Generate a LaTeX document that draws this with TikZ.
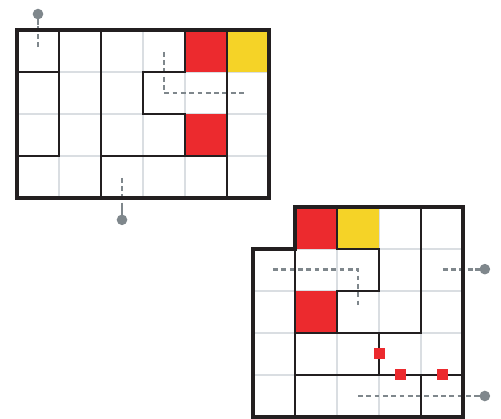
\documentclass[tikz,border=0pt]{standalone}
\usetikzlibrary{calc}
\definecolor{gridgray}{HTML}{DADEE2}
\definecolor{wallblack}{HTML}{231F20}
\definecolor{pinggray}{HTML}{7F878C}
\definecolor{cellred}{HTML}{EC2A2E}
\definecolor{cellyellow}{HTML}{F5D327}
\tikzset{
  gridline/.style={draw=gridgray, line width=1.5pt},
  wall/.style={draw=wallblack, line width=2.4pt, line cap=rect, line join=miter},
  border/.style={draw=wallblack, line width=4.6pt, line join=miter},
  redcell/.style={fill=cellred},
  yellowcell/.style={fill=cellyellow},
  pathdash/.style={draw=pinggray, line width=2.9pt, dash pattern=on 4.8pt off 3.5pt},
  pinstem/.style={draw=pinggray, line width=2.9pt},
  pinhead/.style={fill=pinggray},
  marker/.style={fill=cellred},
}
\begin{document}
\begin{tikzpicture}[x=1pt,y=-1pt]
\useasboundingbox (0,0) rectangle (501,419);
% ---------------- top grid ----------------
\begin{scope}[shift={(17,30)}, x=42pt, y=-42pt]
  \foreach \i in {1,...,5} \draw[gridline] (\i,0) -- (\i,4);
  \foreach \j in {1,...,3} \draw[gridline] (0,\j) -- (6,\j);
  \path[redcell] (4,0) rectangle (5,1);
  \path[yellowcell] (5,0) rectangle (6,1);
  \path[redcell] (4,2) rectangle (5,3);
  % dashed route
  \coordinate (tA) at (3.5,0.52);
  \coordinate (tB) at (3.5,1.5);
  \coordinate (tC) at (5.4,1.5);
  \draw[pathdash] (tA) -- (tB) -- (tC);
  % top pin
  \coordinate (tp1) at (0.5,-0.38);
  \coordinate (tp1s) at (0.5,-0.12);
  \coordinate (tp1e) at (0.5,0.41);
  \draw[pathdash] (tp1e) -- (tp1s);
  \draw[pinstem] (tp1) -- (tp1s);
  \fill[pinhead] (tp1) circle (5.3pt);
  % bottom pin
  \coordinate (tp2) at (2.5,4.52);
  \coordinate (tp2s) at (2.5,4.2);
  \coordinate (tp2e) at (2.5,3.52);
  \draw[pathdash] (tp2e) -- (tp2s);
  \draw[pinstem] (tp2s) -- (tp2);
  \fill[pinhead] (tp2) circle (5.3pt);
  % walls
  \draw[wall] (0,1) -- (1,1);
  \draw[wall] (1,0) -- (1,3);
  \draw[wall] (0,3) -- (1,3);
  \draw[wall] (2,0) -- (2,4);
  \draw[wall] (2,3) -- (5,3);
  \draw[wall] (5,0) -- (5,4);
  \draw[wall] (4,0) -- (4,1) -- (3,1) -- (3,2) -- (4,2) -- (4,3);
  \draw[border] (0,0) rectangle (6,4);
\end{scope}
% ---------------- bottom grid ----------------
\begin{scope}[shift={(253,207)}, x=42pt, y=-42pt]
  \foreach \i in {1,...,4} \draw[gridline] (\i,0) -- (\i,5);
  \foreach \j in {1,...,4} \draw[gridline] (0,\j) -- (5,\j);
  \path[redcell] (1,0) rectangle (2,1);
  \path[yellowcell] (2,0) rectangle (3,1);
  \path[redcell] (1,2) rectangle (2,3);
  % dashed route
  \coordinate (bA) at (0.48,1.48);
  \coordinate (bB) at (2.5,1.48);
  \coordinate (bC) at (2.5,2.4);
  \draw[pathdash] (bA) -- (bB) -- (bC);
  % right pin
  \coordinate (bp1) at (5.52,1.48);
  \coordinate (bp1s) at (5.28,1.48);
  \coordinate (bp1e) at (4.52,1.48);
  \draw[pathdash] (bp1e) -- (bp1s);
  \draw[pinstem] (bp1s) -- (bp1);
  \fill[pinhead] (bp1) circle (5.3pt);
  % bottom pin
  \coordinate (bp2) at (5.52,4.5);
  \coordinate (bp2s) at (5.28,4.5);
  \coordinate (bp2e) at (2.5,4.5);
  \draw[pathdash] (bp2e) -- (bp2s);
  \draw[pinstem] (bp2s) -- (bp2);
  \fill[pinhead] (bp2) circle (5.3pt);
  % walls
  \draw[wall] (1,0) -- (1,5);
  \draw[wall] (2,0) -- (2,1) -- (3,1) -- (3,2) -- (2,2) -- (2,3);
  \draw[wall] (1,3) -- (4,3);
  \draw[wall] (4,0) -- (4,3);
  \draw[wall] (3,3) -- (3,4);
  \draw[wall] (1,4) -- (5,4);
  \draw[wall] (4,4) -- (4,5);
  % markers
  \path[marker] (3,3.5) +(-5.5pt,-5.5pt) rectangle +(5.5pt,5.5pt);
  \path[marker] (3.5,4) +(-5.5pt,-5.5pt) rectangle +(5.5pt,5.5pt);
  \path[marker] (4.5,4) +(-5.5pt,-5.5pt) rectangle +(5.5pt,5.5pt);
  \draw[border] (0,1) -- (1,1) -- (1,0) -- (5,0) -- (5,5) -- (0,5) -- cycle;
\end{scope}
\end{tikzpicture}
\end{document}
